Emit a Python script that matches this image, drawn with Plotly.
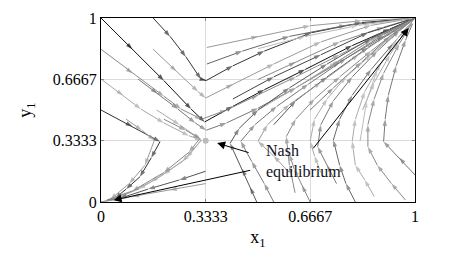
import plotly.graph_objects as go

# Axis ticks
tick_vals = [0, 0.3333, 0.6667, 1]
tick_text = ["0", "0.3333", "0.6667", "1"]

# Trajectories: (x list, y list, colour)
traj_tl1_x = [0, 0.1, 0.2, 0.287, 0.33, 0.42, 0.52, 0.65, 0.8, 0.92, 1]
traj_tl1_y = [1, 0.83, 0.66, 0.505, 0.435, 0.52, 0.61, 0.72, 0.85, 0.94, 1]
traj_tl2_x = [0.166, 0.22, 0.27, 0.318, 0.335, 0.42, 0.52, 0.67, 0.83, 1]
traj_tl2_y = [1, 0.9, 0.79, 0.668, 0.66, 0.74, 0.82, 0.92, 0.975, 1]
traj_tl3_x = [0, 0.1, 0.2, 0.255, 0.32, 0.4, 0.5, 0.62, 0.76, 0.9, 1]
traj_tl3_y = [0.83, 0.7, 0.575, 0.505, 0.45, 0.5, 0.58, 0.68, 0.8, 0.92, 1]
traj_tl4_x = [0.166, 0.24, 0.309, 0.333, 0.42, 0.55, 0.7, 0.86, 1]
traj_tl4_y = [0.83, 0.71, 0.6, 0.565, 0.64, 0.75, 0.87, 0.96, 1]
traj_tl5_x = [0.118, 0.18, 0.245, 0.3, 0.335, 0.4, 0.5, 0.62, 0.76, 0.9, 1]
traj_tl5_y = [0.668, 0.59, 0.505, 0.43, 0.39, 0.43, 0.51, 0.62, 0.76, 0.9, 1]
traj_tl6_x = [0, 0.07, 0.127, 0.2, 0.28, 0.32, 0.273, 0.2, 0.12, 0.045, 0]
traj_tl6_y = [0.668, 0.58, 0.505, 0.43, 0.36, 0.337, 0.24, 0.15, 0.07, 0.02, 0]
traj_tl7_x = [0, 0.1, 0.188, 0.16, 0.124, 0.08, 0.045, 0]
traj_tl7_y = [0.5, 0.41, 0.328, 0.24, 0.137, 0.07, 0.02, 0]
traj_tl8_x = [0.177, 0.25, 0.32, 0.26, 0.16, 0.06, 0]
traj_tl8_y = [0.5, 0.42, 0.337, 0.22, 0.11, 0.025, 0]
traj_tl9_x = [0.08, 0.13, 0.17, 0.14, 0.09, 0.03, 0]
traj_tl9_y = [0.45, 0.39, 0.335, 0.2, 0.1, 0.015, 0]
traj_tl10_x = [0.2, 0.27, 0.315, 0.28, 0.2, 0.1, 0]
traj_tl10_y = [0.45, 0.39, 0.345, 0.27, 0.16, 0.06, 0]
traj_bl1_x = [0.333, 0.25, 0.15, 0.06, 0]
traj_bl1_y = [0.167, 0.12, 0.07, 0.02, 0]
traj_bl2_x = [0.333, 0.22, 0.1, 0]
traj_bl2_y = [0.1, 0.065, 0.03, 0]
traj_tr1_x = [0.337, 0.5, 0.666, 0.83, 1]
traj_tr1_y = [0.84, 0.9, 0.958, 0.985, 1]
traj_tr2_x = [0.337, 0.45, 0.6, 0.78, 1]
traj_tr2_y = [0.75, 0.82, 0.9, 0.96, 1]
traj_tr3_x = [0.5, 0.62, 0.75, 0.88, 1]
traj_tr3_y = [0.5, 0.62, 0.76, 0.9, 1]
traj_tr4_x = [0.5, 0.62, 0.76, 0.9, 1]
traj_tr4_y = [0.666, 0.76, 0.87, 0.95, 1]
traj_tr5_x = [0.666, 0.74, 0.83, 0.92, 1]
traj_tr5_y = [0.5, 0.62, 0.76, 0.9, 1]
traj_tr6_x = [0.666, 0.76, 0.86, 1]
traj_tr6_y = [0.666, 0.77, 0.88, 1]
traj_tr7_x = [0.5, 0.65, 0.82, 1]
traj_tr7_y = [0.833, 0.9, 0.96, 1]
traj_tr8_x = [0.833, 0.87, 0.92, 0.97, 1]
traj_tr8_y = [0.5, 0.65, 0.8, 0.93, 1]
traj_tr9_x = [0.42, 0.55, 0.7, 0.85, 1]
traj_tr9_y = [0.56, 0.68, 0.8, 0.92, 1]
traj_tr10_x = [0.55, 0.62, 0.72, 0.85, 1]
traj_tr10_y = [0.42, 0.55, 0.68, 0.84, 1]
traj_br1_x = [0.496, 0.475, 0.45, 0.411, 0.44, 0.5, 0.6, 0.72, 0.86, 1]
traj_br1_y = [0, 0.08, 0.18, 0.319, 0.4, 0.5, 0.62, 0.75, 0.89, 1]
traj_br2_x = [0.55, 0.52, 0.48, 0.445, 0.49, 0.56, 0.66, 0.78, 0.9, 1]
traj_br2_y = [0, 0.1, 0.22, 0.33, 0.42, 0.52, 0.64, 0.78, 0.91, 1]
traj_br3_x = [0.618, 0.6, 0.59, 0.62, 0.68, 0.76, 0.86, 0.95, 1]
traj_br3_y = [0.05, 0.2, 0.355, 0.45, 0.56, 0.68, 0.82, 0.94, 1]
traj_br4_x = [0.7, 0.68, 0.666, 0.68, 0.72, 0.78, 0.86, 0.94, 1]
traj_br4_y = [0.16, 0.25, 0.33, 0.45, 0.56, 0.68, 0.8, 0.92, 1]
traj_br5_x = [0.81, 0.78, 0.76, 0.74, 0.76, 0.8, 0.86, 0.93, 1]
traj_br5_y = [0, 0.1, 0.2, 0.337, 0.45, 0.58, 0.72, 0.86, 1]
traj_br6_x = [0.87, 0.84, 0.81, 0.8, 0.81, 0.84, 0.89, 0.95, 1]
traj_br6_y = [0.03, 0.12, 0.2, 0.33, 0.45, 0.6, 0.75, 0.88, 1]
traj_br7_x = [1, 0.95, 0.9, 0.905, 0.915, 0.94, 0.97, 1]
traj_br7_y = [0.147, 0.24, 0.328, 0.45, 0.58, 0.74, 0.88, 1]
traj_br8_x = [0.97, 0.925, 0.88, 0.85, 0.85, 0.87, 0.9, 0.95, 1]
traj_br8_y = [0.01, 0.1, 0.2, 0.3, 0.42, 0.56, 0.7, 0.86, 1]
traj_br9_x = [0.825, 0.846, 0.88, 0.94, 1]
traj_br9_y = [0.33, 0.55, 0.72, 0.88, 1]
traj_br10_x = [0.75, 0.72, 0.69, 0.7, 0.74, 0.8, 0.88, 0.95, 1]
traj_br10_y = [0.1, 0.2, 0.3, 0.42, 0.55, 0.68, 0.82, 0.93, 1]
traj_br11_x = [0.6, 0.55, 0.5, 0.53, 0.6, 0.7, 0.82, 0.93, 1]
traj_br11_y = [0.16, 0.25, 0.33, 0.42, 0.53, 0.65, 0.8, 0.93, 1]
traj_br12_x = [0.666, 0.64, 0.615, 0.6]
traj_br12_y = [0, 0.09, 0.18, 0.26]

trajectories = [
    (traj_tl1_x, traj_tl1_y, "#111111"),
    (traj_tl2_x, traj_tl2_y, "#333333"),
    (traj_tl3_x, traj_tl3_y, "#8a8a8a"),
    (traj_tl4_x, traj_tl4_y, "#9a9a9a"),
    (traj_tl5_x, traj_tl5_y, "#777777"),
    (traj_tl6_x, traj_tl6_y, "#a8a8a8"),
    (traj_tl7_x, traj_tl7_y, "#333333"),
    (traj_tl8_x, traj_tl8_y, "#aaaaaa"),
    (traj_tl9_x, traj_tl9_y, "#999999"),
    (traj_tl10_x, traj_tl10_y, "#888888"),
    (traj_bl1_x, traj_bl1_y, "#555555"),
    (traj_bl2_x, traj_bl2_y, "#999999"),
    (traj_tr1_x, traj_tr1_y, "#999999"),
    (traj_tr2_x, traj_tr2_y, "#666666"),
    (traj_tr3_x, traj_tr3_y, "#aaaaaa"),
    (traj_tr4_x, traj_tr4_y, "#888888"),
    (traj_tr5_x, traj_tr5_y, "#777777"),
    (traj_tr6_x, traj_tr6_y, "#999999"),
    (traj_tr7_x, traj_tr7_y, "#bbbbbb"),
    (traj_tr8_x, traj_tr8_y, "#aaaaaa"),
    (traj_tr9_x, traj_tr9_y, "#444444"),
    (traj_tr10_x, traj_tr10_y, "#555555"),
    (traj_br1_x, traj_br1_y, "#555555"),
    (traj_br2_x, traj_br2_y, "#777777"),
    (traj_br3_x, traj_br3_y, "#888888"),
    (traj_br4_x, traj_br4_y, "#aaaaaa"),
    (traj_br5_x, traj_br5_y, "#666666"),
    (traj_br6_x, traj_br6_y, "#aaaaaa"),
    (traj_br7_x, traj_br7_y, "#777777"),
    (traj_br8_x, traj_br8_y, "#888888"),
    (traj_br9_x, traj_br9_y, "#bbbbbb"),
    (traj_br10_x, traj_br10_y, "#777777"),
    (traj_br11_x, traj_br11_y, "#999999"),
    (traj_br12_x, traj_br12_y, "#888888"),
]

# Equilibria
saddle_x = [0.3333]
saddle_y = [0.3333]

# Annotation arrows: (tail x, tail y, head x, head y)
note_arrows = [
    (0.475, 0.266, 0.37, 0.32),
    (0.48, 0.174, 0.04, 0.01),
    (0.672, 0.283, 0.98, 0.945),
]
note_text = "Nash<br>equilibrium"

fig = go.Figure()

for xs, ys, col in trajectories:
    n = len(xs)
    sizes = [0] + [7] * (n - 2) + [0 if (xs[-1], ys[-1]) in [(0, 0), (1, 1)] else 7]
    fig.add_trace(go.Scatter(
        x=xs, y=ys, mode="lines+markers",
        line=dict(color=col, width=1),
        marker=dict(symbol="arrow", size=sizes, color=col, angleref="previous",
                    line=dict(width=0)),
        hoverinfo="skip", showlegend=False,
    ))

fig.add_trace(go.Scatter(
    x=saddle_x, y=saddle_y, mode="markers",
    marker=dict(color="#bbbbbb", size=6), showlegend=False, hoverinfo="skip",
))

for tx, ty, hx, hy in note_arrows:
    fig.add_annotation(
        x=hx, y=hy, ax=tx, ay=ty, xref="x", yref="y", axref="x", ayref="y",
        text="", showarrow=True, arrowhead=2, arrowsize=1.6, arrowwidth=1,
        arrowcolor="black",
    )

fig.add_annotation(
    x=0.52, y=0.22, xref="x", yref="y", text=note_text, showarrow=False,
    xanchor="left", yanchor="middle", align="left",
    font=dict(family="Liberation Serif", size=16, color="#101020"),
)

axis_common = dict(
    range=[0, 1], tickvals=tick_vals, ticktext=tick_text,
    showgrid=True, gridcolor="#dcdcdc", gridwidth=1,
    showline=True, linecolor="black", linewidth=1, mirror="ticks",
    ticks="inside", ticklen=3, tickcolor="#888888",
    tickfont=dict(family="Liberation Serif", size=16, color="black"),
    zeroline=False, fixedrange=True, automargin=False,
)

# page body adds an 8px offset, so the figure is sized to fit the window
fig.update_layout(
    width=461, height=252,
    margin=dict(l=93, r=54, t=10, b=58, autoexpand=False),
    plot_bgcolor="white", paper_bgcolor="white",
    xaxis=dict(**axis_common, title=dict(text="x<sub>1</sub>",
               font=dict(family="Liberation Serif", size=18, color="black"), standoff=6)),
    yaxis=dict(**axis_common, title=dict(text="y<sub>1</sub>",
               font=dict(family="Liberation Serif", size=18, color="black"), standoff=16)),
)

fig.write_html("out.html")
